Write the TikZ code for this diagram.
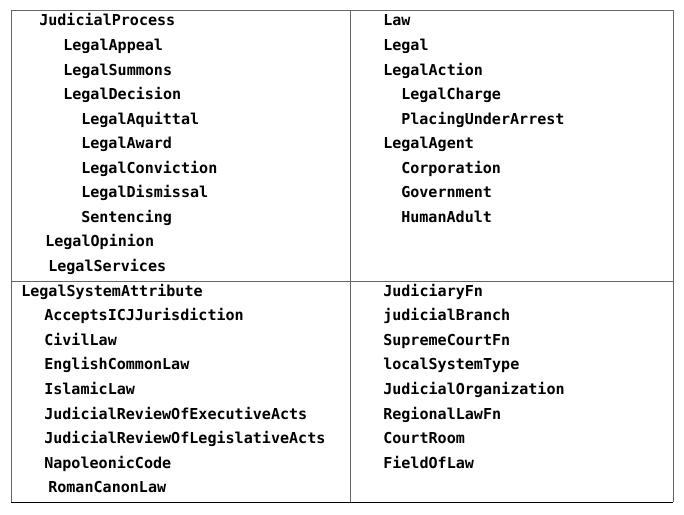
\documentclass[tikz,border=0pt]{standalone}
\usepackage{fontspec}
\setmonofont{DejaVu Sans Mono}
\usepackage{tikz}

\tikzset{
  entry/.style={anchor=base west, inner sep=0, font=\fontsize{11.3}{13}\selectfont\ttfamily\bfseries},
  rule/.style={draw=black!60, line width=0.75pt}
}

\begin{document}
\begin{tikzpicture}[x=0.75pt, y=-0.75pt]
            \useasboundingbox (0,0) rectangle (684,514);

            % cell borders
            \draw [rule] (11,10) -- (673,10);
            \draw [rule] (11,281) -- (673,281);
            \draw [rule] (11,10) -- (11,502);
            \draw [rule] (350,10) -- (350,502);
            \draw [rule] (673,10) -- (673,502);
            \draw [line width=0.75pt] (11,502) -- (673,502);

            % top left
            \node [entry] (jp)  at (39, 26.0) {JudicialProcess};
            \node [entry] (ap)  at (63, 50.5) {LegalAppeal};
            \node [entry] (su)  at (63, 75.0) {LegalSummons};
            \node [entry] (de)  at (63, 99.5) {LegalDecision};
            \node [entry] (aq)  at (81,124.0) {LegalAquittal};
            \node [entry] (aw)  at (81,148.5) {LegalAward};
            \node [entry] (cv)  at (81,173.0) {LegalConviction};
            \node [entry] (di)  at (81,197.5) {LegalDismissal};
            \node [entry] (se)  at (81,222.0) {Sentencing};
            \node [entry] (op)  at (45,246.5) {LegalOpinion};
            \node [entry] (sv)  at (48,271.0) {LegalServices};

            % top right
            \node [entry] (law) at (383, 26.0) {Law};
            \node [entry] (lg)  at (383, 50.5) {Legal};
            \node [entry] (ac)  at (383, 75.0) {LegalAction};
            \node [entry] (ch)  at (401, 99.5) {LegalCharge};
            \node [entry] (ar)  at (401,124.0) {PlacingUnderArrest};
            \node [entry] (ag)  at (383,148.5) {LegalAgent};
            \node [entry] (co)  at (401,173.0) {Corporation};
            \node [entry] (gv)  at (401,197.5) {Government};
            \node [entry] (ha)  at (401,222.0) {HumanAdult};

            % bottom left
            \node [entry] (at)  at (21,296.0) {LegalSystemAttribute};
            \node [entry] (icj) at (44,320.6) {AcceptsICJJurisdiction};
            \node [entry] (cl)  at (44,345.2) {CivilLaw};
            \node [entry] (ec)  at (44,369.8) {EnglishCommonLaw};
            \node [entry] (il)  at (44,394.4) {IslamicLaw};
            \node [entry] (re)  at (44,419.0) {JudicialReviewOfExecutiveActs};
            \node [entry] (rl)  at (44,443.6) {JudicialReviewOfLegislativeActs};
            \node [entry] (nc)  at (44,468.2) {NapoleonicCode};
            \node [entry] (rc)  at (48,492.8) {RomanCanonLaw};

            % bottom right
            \node [entry] (jf)  at (383,296.0) {JudiciaryFn};
            \node [entry] (jb)  at (383,320.6) {judicialBranch};
            \node [entry] (sc)  at (383,345.2) {SupremeCourtFn};
            \node [entry] (ls)  at (383,369.8) {localSystemType};
            \node [entry] (jo)  at (383,394.4) {JudicialOrganization};
            \node [entry] (rf)  at (383,419.0) {RegionalLawFn};
            \node [entry] (cr)  at (383,443.6) {CourtRoom};
            \node [entry] (fl)  at (383,468.2) {FieldOfLaw};
        \end{tikzpicture}
\end{document}
